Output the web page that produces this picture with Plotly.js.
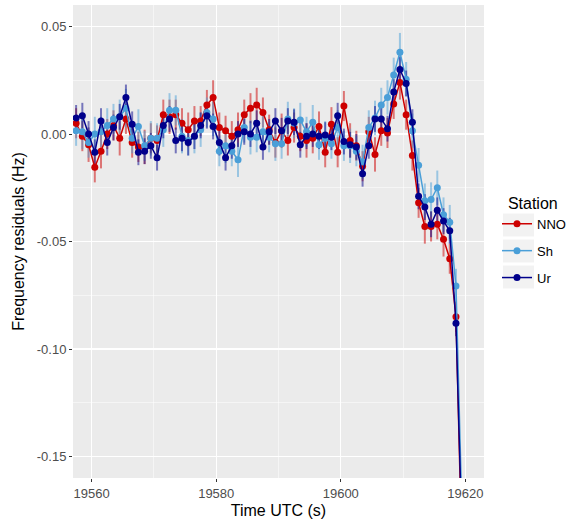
<!DOCTYPE html>
<html>
<head>
<meta charset="utf-8">
<script src="https://cdn.plot.ly/plotly-3.0.1.min.js"></script>
<style>html,body{margin:0;padding:0;background:#fff;overflow:hidden;}#chart{width:568px;height:521px;}</style>
</head>
<body>
<div id="chart"></div>
<script>
// Time stamps (s, UTC)
const time = [19557.5,19558.5,19559.5,19560.5,19561.5,19562.5,19563.5,19564.5,19565.5,19566.5,
  19567.5,19568.5,19569.5,19570.5,19571.5,19572.5,19573.5,19574.5,19575.5,19576.5,
  19577.5,19578.5,19579.5,19580.5,19581.5,19582.5,19583.5,19584.5,19585.5,19586.5,
  19587.5,19588.5,19589.5,19590.5,19591.5,19592.5,19593.5,19594.5,19595.5,19596.5,
  19597.5,19598.5,19599.5,19600.5,19601.5,19602.5,19603.5,19604.5,19605.5,19606.5,
  19607.5,19608.5,19609.5,19610.5,19611.5,19612.5,19613.5,19614.5,19615.5,19616.5,
  19617.5,19618.5,19619.5];

const stations = ["NNO","Sh","Ur"];

const resNNO = [0.005,-0.001,-0.005,-0.0155,-0.008,0.000,0.004,-0.002,0.007,-0.004,
  -0.006,-0.006,-0.002,-0.003,0.009,0.008,0.009,0.005,0.002,0.006,
  0.006,0.0135,0.017,0.003,0.0015,-0.001,0.002,0.009,0.012,0.0135,
  0.010,0.002,-0.004,0.0015,-0.003,0.003,-0.001,-0.003,-0.002,0.0035,
  -0.0085,0.0045,-0.0085,0.013,-0.003,-0.0055,-0.015,0.001,-0.0095,0.0015,
  0.0005,0.014,0.024,0.009,-0.010,-0.032,-0.043,-0.043,-0.042,-0.049,
  -0.058,-0.085,-0.20];
const resSh = [0.0015,0.001,-0.004,0.000,0.001,0.004,0.007,0.008,0.012,-0.002,
  0.0035,-0.0055,-0.002,-0.002,0.002,0.011,0.011,-0.001,-0.003,-0.001,
  0.002,0.010,0.007,-0.008,-0.0055,-0.008,-0.012,0.003,-0.0015,-0.0015,
  0.001,-0.0015,-0.0045,-0.0045,0.007,0.005,0.0065,0.001,0.0055,-0.005,
  -0.002,-0.0045,0.003,-0.0055,-0.0055,-0.008,-0.013,0.003,0.0075,0.0135,
  0.017,0.0275,0.038,0.0255,0.0015,-0.0145,-0.031,-0.0305,-0.025,-0.0375,
  -0.041,-0.0707,-0.18];
const resUr = [0.0075,0.0085,0.000,-0.0085,0.006,-0.004,0.003,0.008,0.017,0.0045,
  -0.0085,-0.008,-0.0055,-0.011,0.004,0.007,-0.003,-0.002,-0.004,-0.001,
  0.004,0.0085,0.0035,-0.004,-0.011,-0.0055,0.000,0.001,0.000,0.005,
  -0.006,0.001,0.006,0.0015,0.006,0.0055,-0.005,-0.001,0.000,-0.001,
  -0.0005,-0.0015,0.0085,-0.0035,-0.005,-0.006,-0.0185,-0.0055,0.007,0.007,
  0.0025,0.0195,0.030,0.0235,0.0055,-0.029,-0.034,-0.042,-0.0355,-0.0405,
  -0.045,-0.088,-0.19];

const errNNO = [0.007,0.007,0.008,0.007,0.008,0.007,0.007,0.008,0.007,0.007,
  0.007,0.008,0.007,0.007,0.007,0.008,0.007,0.007,0.008,0.007,
  0.007,0.007,0.008,0.007,0.007,0.007,0.008,0.007,0.007,0.008,
  0.007,0.007,0.007,0.008,0.007,0.007,0.007,0.008,0.007,0.007,
  0.007,0.008,0.007,0.007,0.008,0.007,0.007,0.007,0.008,0.007,
  0.007,0.007,0.008,0.007,0.007,0.007,0.008,0.007,0.007,0.008,
  0.007,0.007,0.007];
const errSh = [0.007,0.008,0.007,0.008,0.007,0.008,0.007,0.008,0.009,0.007,
  0.008,0.007,0.008,0.007,0.008,0.008,0.007,0.008,0.007,0.008,
  0.008,0.007,0.008,0.007,0.008,0.007,0.008,0.007,0.008,0.007,
  0.008,0.007,0.008,0.007,0.008,0.007,0.008,0.007,0.008,0.007,
  0.008,0.007,0.008,0.007,0.008,0.007,0.008,0.008,0.008,0.008,
  0.008,0.008,0.009,0.008,0.008,0.008,0.008,0.008,0.008,0.008,
  0.008,0.008,0.008];
const errUr = [0.006,0.006,0.006,0.006,0.006,0.006,0.006,0.006,0.006,0.006,
  0.006,0.006,0.006,0.006,0.006,0.006,0.006,0.006,0.006,0.006,
  0.006,0.006,0.006,0.006,0.006,0.006,0.006,0.006,0.006,0.006,
  0.006,0.006,0.006,0.006,0.006,0.006,0.006,0.006,0.006,0.006,
  0.006,0.006,0.006,0.006,0.006,0.006,0.006,0.006,0.006,0.006,
  0.006,0.006,0.006,0.006,0.006,0.006,0.006,0.006,0.006,0.006,
  0.006,0.006,0.006];

const xTicks = [19560,19580,19600,19620];
const xTickText = ["19560","19580","19600","19620"];
const yTicks = [-0.15,-0.10,-0.05,0.00,0.05];
const yTickText = ["-0.15","-0.10","-0.05","0.00","0.05"];

const series = [
  {name: stations[0], y: resNNO, e: errNNO, color: "#CD0000", ecolor: "rgba(205,0,0,0.5)"},
  {name: stations[1], y: resSh,  e: errSh,  color: "#4A9FD8", ecolor: "rgba(74,159,216,0.5)"},
  {name: stations[2], y: resUr,  e: errUr,  color: "#00008B", ecolor: "rgba(0,0,139,0.5)"}
];

const traces = [];
series.forEach(s => {
  traces.push({
    type: "scatter", mode: "markers", x: time, y: s.y, showlegend: false, hoverinfo: "skip",
    marker: {size: 1, opacity: 0},
    error_y: {type: "data", array: s.e, visible: true, color: s.ecolor, thickness: 2, width: 0}
  });
});
series.forEach((s, i) => {
  traces.push({
    type: "scatter", mode: "lines+markers", x: time, y: s.y, name: s.name,
    legendgroup: "g" + i,
    line: {color: s.color, width: 1.5},
    marker: {color: s.color, size: 7}
  });
});

const font = "Liberation Sans, Arial, sans-serif";
const W = 411, H = 473; // plot area pixels
function px2x(p){ return (p - 73) / W; }
function py2y(p){ return (478 - p) / H; }
const keyCentres = [225, 251, 277];
const shapes = keyCentres.map(c => ({
  type: "rect", xref: "paper", yref: "paper", layer: "below",
  x0: px2x(503), x1: px2x(534), y0: py2y(c + 11.5), y1: py2y(c - 11.5),
  fillcolor: "#F2F2F2", line: {width: 0}
}));

const layout = {
  width: 568, height: 521,
  margin: {l: 73, r: 84, t: 5, b: 43, pad: 0, autoexpand: false},
  paper_bgcolor: "#FFFFFF", plot_bgcolor: "#EBEBEB",
  font: {family: font, color: "#000"},
  showlegend: true,
  legend: {
    x: px2x(497), y: py2y(188), xanchor: "left", yanchor: "top",
    title: {text: "\u00a0\u00a0Station", font: {size: 16, color: "#000"}},
    font: {size: 13, color: "#000"},
    tracegroupgap: 7, bgcolor: "rgba(0,0,0,0)", itemwidth: 30
  },
  xaxis: {
    range: [19557, 19623], tickvals: xTicks, ticktext: xTickText,
    ticks: "outside", ticklen: 3, tickcolor: "#333333", tickwidth: 1,
    tickfont: {size: 13, color: "#4D4D4D", family: font},
    showgrid: true, gridcolor: "#FFFFFF", gridwidth: 1.1,
    minor: {dtick: 10, tick0: 19560, showgrid: true, gridcolor: "#FFFFFF", gridwidth: 0.5, ticks: ""},
    zeroline: false, showline: false, automargin: false,
    title: {text: "Time UTC (s)", font: {size: 16, color: "#000", family: font}, standoff: 5}
  },
  yaxis: {
    range: [-0.16, 0.06], tickvals: yTicks, ticktext: yTickText,
    ticks: "outside", ticklen: 3, tickcolor: "#333333", tickwidth: 1,
    tickfont: {size: 13, color: "#4D4D4D", family: font},
    showgrid: true, gridcolor: "#FFFFFF", gridwidth: 1.1,
    minor: {dtick: 0.025, tick0: 0, showgrid: true, gridcolor: "#FFFFFF", gridwidth: 0.5, ticks: ""},
    zeroline: false, showline: false, automargin: false,
    title: {text: "Frequency residuals (Hz)", font: {size: 16, color: "#000", family: font}, standoff: 8}
  },
  shapes: shapes
};

Plotly.newPlot("chart", traces, layout, {displayModeBar: false, staticPlot: true});
</script>
</body>
</html>
